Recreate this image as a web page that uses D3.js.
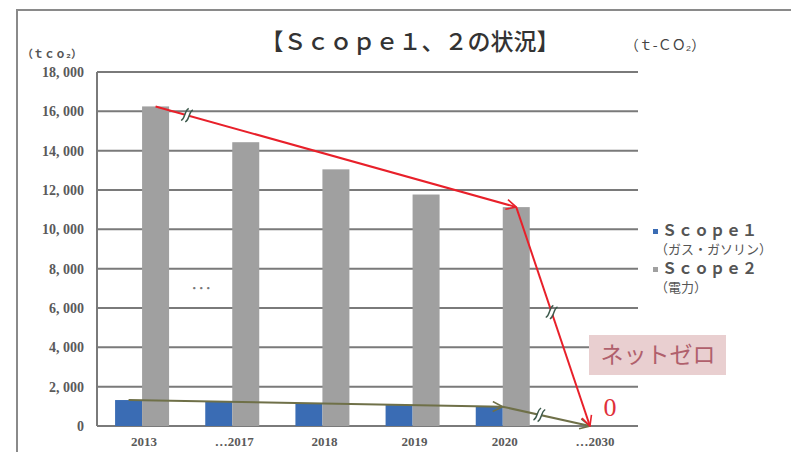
<!DOCTYPE html>
<html>
<head>
<meta charset="utf-8">
<script src="https://cdn.jsdelivr.net/npm/d3@7"></script>
<style>
  body { margin: 0; background: #fff; }
  svg { display: block; }
  .serif { font-family: "Liberation Serif", "DejaVu Serif", "Noto Sans CJK JP", serif; }
  .jp { font-family: "Noto Sans CJK JP", sans-serif; }
</style>
</head>
<body>
<svg id="chart" width="791" height="452"></svg>
<script>
// data
var categories = ['2013', '…2017', '2018', '2019', '2020', '…2030'];
var scope1 = [1320, 1240, 1150, 1065, 980, 0];
var scope2 = [16250, 14430, 13050, 11770, 11130, 0];
var yTicks = [0, 2000, 4000, 6000, 8000, 10000, 12000, 14000, 16000, 18000];
var seriesNames = ['Ｓｃｏｐｅ１', 'Ｓｃｏｐｅ２'];
var seriesNotes = ['（ガス・ガソリン）', '（電力）'];
var trendIdx = [0, 4, 5]; // 2013 -> 2020 -> 2030

(function() {
  var svg = d3.select('#chart');
  var plotL = 97, plotR = 638, plotT = 72, plotB = 426;
  var colors = { s1: '#3a6cb4', s2: '#a0a0a0' };

  // outer frame
  svg.append('path')
    .attr('d', 'M17,452 L17,10 L791,10')
    .attr('fill', 'none').attr('stroke', '#8a8a8a').attr('stroke-width', 2);

  var x = d3.scaleBand().domain(categories).range([plotL, plotR]);
  var y = d3.scaleLinear().domain([0, 18000]).range([plotB, plotT]);
  var barW = 27;
  var x1 = d3.scaleBand().domain(['s1', 's2']).range([0, barW * 2]);
  function gx(c) { return x(c) + x.bandwidth() / 2 - barW; }

  // gridlines
  svg.append('g').selectAll('line').data(yTicks).enter().append('line')
    .attr('x1', plotL).attr('x2', plotR)
    .attr('y1', function(d) { return y(d); }).attr('y2', function(d) { return y(d); })
    .attr('stroke', '#7a7a7a').attr('stroke-width', 2);
  svg.append('line').attr('x1', plotL).attr('x2', plotL).attr('y1', plotT).attr('y2', plotB)
    .attr('stroke', '#7a7a7a').attr('stroke-width', 2);

  // y labels
  svg.append('g').selectAll('text').data(yTicks).enter().append('text')
    .attr('class', 'serif')
    .attr('x', 84).attr('y', function(d) { return y(d) + 5; })
    .attr('text-anchor', 'end').attr('font-size', 14).attr('font-weight', 'bold').attr('fill', '#5a5a5a')
    .text(function(d) { return d3.format(',')(d).replace(',', ', '); });

  // x labels
  svg.append('g').selectAll('text').data(categories).enter().append('text')
    .attr('class', 'serif')
    .attr('x', function(d) { return x(d) + x.bandwidth() / 2 + 2; }).attr('y', 446)
    .attr('text-anchor', 'middle').attr('font-size', 13).attr('font-weight', 'bold').attr('fill', '#5a5a5a')
    .text(function(d) { return d; });

  // bars
  var groups = svg.append('g').selectAll('g').data(categories).enter().append('g');
  groups.append('rect')
    .attr('x', function(d) { return gx(d) + x1('s1'); })
    .attr('y', function(d, i) { return y(scope1[i]); })
    .attr('width', x1.bandwidth())
    .attr('height', function(d, i) { return plotB - y(scope1[i]); })
    .attr('fill', colors.s1);
  groups.append('rect')
    .attr('x', function(d) { return gx(d) + x1('s2'); })
    .attr('y', function(d, i) { return y(scope2[i]); })
    .attr('width', x1.bandwidth())
    .attr('height', function(d, i) { return plotB - y(scope2[i]); })
    .attr('fill', colors.s2);

  // "..." between years
  svg.append('text').attr('class', 'jp')
    .attr('x', (x(categories[0]) + x(categories[1]) + x.bandwidth()) / 2 + 14).attr('y', 293)
    .attr('text-anchor', 'middle').attr('font-size', 14).attr('fill', '#777').text('･･･');

  // arrow markers
  var defs = svg.append('defs');
  function marker(id, col) {
    defs.append('marker').attr('id', id).attr('viewBox', '0 0 12 12')
      .attr('refX', 11).attr('refY', 6).attr('markerWidth', 12).attr('markerHeight', 12)
      .attr('markerUnits', 'userSpaceOnUse').attr('orient', 'auto')
      .append('path').attr('d', 'M1,1 L11,6 L1,11').attr('fill', 'none')
      .attr('stroke', col).attr('stroke-width', 1.6);
  }
  marker('arRed', '#e8202a');
  marker('arOlive', '#6f7048');

  function pointsFor(vals, xoff) {
    return trendIdx.map(function(i, k) {
      var c = categories[i];
      var px = k === trendIdx.length - 1 ? x(c) + x.bandwidth() / 2 - 3 : gx(c) + xoff(k);
      return [px, y(vals[i])];
    });
  }
  var redPts = pointsFor(scope2, function() { return x1('s2') + barW / 2; });
  var olivePts = pointsFor(scope1, function(k) { return k === 0 ? x1('s1') + barW / 2 : x1('s2'); });

  function trend(pts, col, mk, breaks) {
    for (var k = 0; k < pts.length - 1; k++) {
      svg.append('line')
        .attr('x1', pts[k][0]).attr('y1', pts[k][1]).attr('x2', pts[k + 1][0]).attr('y2', pts[k + 1][1])
        .attr('stroke', col).attr('stroke-width', 2).attr('marker-end', 'url(#' + mk + ')');
    }
    // "≈" style break marks, same slant everywhere
    breaks.forEach(function(b) {
      var a = pts[b[0]], c = pts[b[0] + 1];
      var bx = a[0] + (c[0] - a[0]) * b[1], by = a[1] + (c[1] - a[1]) * b[1];
      var g = svg.append('g').attr('transform', 'translate(' + bx + ',' + by + ') rotate(20)');
      g.append('rect').attr('x', -2).attr('y', -3).attr('width', 4).attr('height', 6).attr('fill', '#fff');
      [-2.2, 2.2].forEach(function(dx) {
        g.append('path')
          .attr('d', 'M' + (dx + 1.5) + ',-7 C' + (dx - 2) + ',-3 ' + (dx + 2) + ',3 ' + (dx - 1.5) + ',7')
          .attr('fill', 'none').attr('stroke', '#3d5a4c').attr('stroke-width', 1.4);
      });
    });
  }
  trend(olivePts, '#6f7048', 'arOlive', [[1, 0.42]]);
  trend(redPts, '#e8202a', 'arRed', [[0, 0.087], [1, 0.48]]);

  // net zero note
  svg.append('rect').attr('x', 589).attr('y', 335).attr('width', 137).attr('height', 40).attr('fill', '#e9cfd0');
  svg.append('text').attr('class', 'jp').attr('x', 658).attr('y', 363)
    .attr('text-anchor', 'middle').attr('font-size', 23).attr('fill', '#b0606c').text('ネットゼロ');
  svg.append('text').attr('class', 'serif').attr('x', 610).attr('y', 416)
    .attr('text-anchor', 'middle').attr('font-size', 26).attr('fill', '#e0303a').text('0');

  // legend
  var legend = svg.append('g').selectAll('g').data(seriesNames).enter().append('g')
    .attr('transform', function(d, i) { return 'translate(653,' + (229 + i * 38) + ')'; });
  legend.append('rect').attr('width', 5).attr('height', 5)
    .attr('fill', function(d, i) { return i === 0 ? colors.s1 : colors.s2; });
  legend.append('text').attr('class', 'serif').attr('x', 9).attr('y', 7)
    .attr('font-size', 15).attr('font-weight', 'bold').attr('fill', '#555').attr('letter-spacing', 1)
    .text(function(d) { return d; });
  legend.append('text').attr('class', 'jp').attr('x', 2).attr('y', 25)
    .attr('font-size', 13).attr('fill', '#555')
    .text(function(d, i) { return seriesNotes[i]; });

  // titles
  svg.append('text').attr('class', 'jp').attr('x', 410).attr('y', 50)
    .attr('text-anchor', 'middle').attr('font-size', 23).attr('font-weight', 500).attr('fill', '#333')
    .text('【Ｓｃｏｐｅ１、２の状況】');
  svg.append('text').attr('class', 'jp').attr('x', 665).attr('y', 50)
    .attr('text-anchor', 'middle').attr('font-size', 14).attr('fill', '#444')
    .text('（ｔ-ＣＯ₂）');
  svg.append('text').attr('class', 'jp').attr('x', 52).attr('y', 58)
    .attr('text-anchor', 'middle').attr('font-size', 11).attr('font-weight', 'bold').attr('fill', '#555')
    .text('（ｔｃｏ₂）');
})();
</script>
</body>
</html>
